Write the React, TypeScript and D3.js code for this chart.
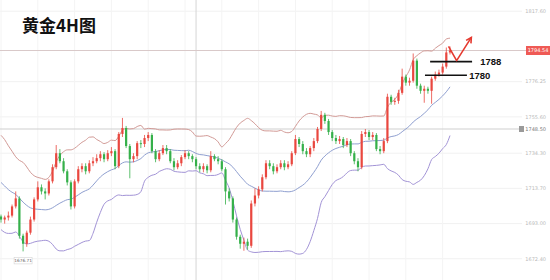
import React from 'react';
import * as d3 from 'd3';

const W = 550;
const H = 280;

const title = '黄金4H图';

// 19 closes before the first visible bar (used only for the Bollinger(20,2) warm-up)
const warmupCloses = [1738.5, 1739.7, 1734.3, 1732.6, 1731.4, 1726.7, 1726.1, 1723.7, 1719.6, 1719.0,
  1714.9, 1714.3, 1711.9, 1707.8, 1706.6, 1703.1, 1701.9, 1698.3, 1697.2];

const closes = [
  1695.4, 1696.6, 1697.7, 1703.1, 1707.8, 1685.9, 1681.2, 1687.7, 1695.4, 1707.2,
  1714.3, 1711.9, 1710.7, 1717.8, 1726.1, 1734.3, 1729.6, 1723.7, 1717.2, 1703.1,
  1717.8, 1724.9, 1726.7, 1723.7, 1728.4, 1729.6, 1731.4, 1733.7, 1730.8, 1734.3,
  1735.5, 1726.7, 1745.6, 1749.1, 1738.5, 1730.8, 1732.6, 1740.2, 1739.7, 1743.2,
  1745.0, 1735.5, 1730.8, 1734.3, 1737.3, 1735.5, 1729.6, 1726.1, 1728.4, 1732.0,
  1734.3, 1732.6, 1730.8, 1726.7, 1724.9, 1726.7, 1724.3, 1732.6, 1730.8, 1729.6,
  1724.9, 1711.9, 1707.8, 1695.4, 1685.3, 1681.2, 1682.4, 1680.0, 1704.8, 1709.5,
  1713.1, 1720.2, 1728.4, 1726.7, 1723.7, 1726.1, 1728.4, 1726.1, 1727.8, 1734.3,
  1742.6, 1739.7, 1735.5, 1733.7, 1737.3, 1741.4, 1748.5, 1756.8, 1753.2, 1746.7,
  1743.2, 1741.4, 1742.6, 1739.1, 1741.4, 1734.3, 1729.6, 1726.1, 1745.6, 1746.7,
  1743.8, 1745.0, 1736.7, 1735.5, 1741.4, 1767.4, 1764.4, 1765.0, 1769.7, 1779.2,
  1775.7, 1776.8, 1788.6, 1773.9, 1770.9, 1772.1, 1770.9, 1778.0, 1780.4, 1781.6,
  1785.1, 1793.4, 1794.54,
];

const highs = [
  1698.3, 1697.7, 1700.1, 1704.2, 1711.9, 1709.0, 1687.1, 1688.9, 1697.1, 1708.4,
  1717.8, 1716.0, 1713.7, 1719.0, 1727.8, 1739.1, 1736.7, 1731.4, 1724.9, 1718.4,
  1719.0, 1726.7, 1728.4, 1728.4, 1730.2, 1732.0, 1733.7, 1735.5, 1734.9, 1736.1,
  1737.9, 1736.7, 1746.7, 1755.0, 1750.3, 1739.7, 1734.3, 1741.4, 1742.0, 1745.0,
  1746.7, 1746.1, 1736.7, 1736.1, 1739.1, 1739.1, 1736.7, 1731.4, 1730.2, 1733.2,
  1736.1, 1735.5, 1733.7, 1732.0, 1728.4, 1728.4, 1727.8, 1735.5, 1733.7, 1732.6,
  1730.8, 1726.1, 1713.7, 1709.0, 1696.6, 1686.5, 1684.8, 1684.2, 1706.6, 1713.7,
  1714.9, 1721.9, 1730.2, 1730.2, 1728.4, 1727.8, 1730.2, 1730.2, 1729.6, 1735.5,
  1745.0, 1743.8, 1741.4, 1737.3, 1738.5, 1743.2, 1749.7, 1759.1, 1758.0, 1754.4,
  1747.9, 1745.0, 1744.4, 1743.8, 1743.2, 1742.6, 1735.5, 1731.4, 1747.3, 1748.5,
  1747.9, 1746.7, 1746.1, 1738.5, 1743.2, 1769.2, 1768.6, 1766.8, 1771.5, 1783.9,
  1780.4, 1778.6, 1792.8, 1789.8, 1775.1, 1773.9, 1773.3, 1779.2, 1782.2, 1783.3,
  1786.9, 1796.3, 1796.9,
];

const lows = [
  1693.6, 1693.0, 1694.8, 1696.6, 1701.9, 1684.2, 1676.71, 1679.4, 1686.5, 1694.2,
  1706.0, 1710.1, 1707.2, 1709.5, 1716.6, 1724.9, 1728.4, 1722.5, 1715.4, 1701.3,
  1701.9, 1716.6, 1723.1, 1721.9, 1722.5, 1726.7, 1728.4, 1729.6, 1729.0, 1729.6,
  1732.6, 1724.9, 1725.5, 1743.8, 1737.3, 1719.6, 1729.0, 1730.8, 1737.3, 1737.9,
  1741.4, 1734.3, 1729.0, 1729.6, 1733.2, 1733.7, 1728.4, 1724.3, 1724.9, 1726.7,
  1730.8, 1730.8, 1729.0, 1724.9, 1723.1, 1723.1, 1722.5, 1723.1, 1729.6, 1727.8,
  1723.7, 1704.2, 1706.0, 1693.6, 1683.6, 1678.3, 1677.1, 1677.7, 1678.8, 1703.1,
  1707.8, 1711.9, 1719.0, 1724.9, 1721.9, 1722.5, 1724.9, 1724.3, 1724.9, 1726.7,
  1733.2, 1737.9, 1733.7, 1732.0, 1732.0, 1735.5, 1740.2, 1747.3, 1751.5, 1745.0,
  1741.4, 1739.7, 1739.7, 1737.3, 1737.9, 1732.6, 1727.8, 1723.7, 1724.9, 1743.8,
  1742.0, 1742.0, 1735.5, 1733.7, 1734.3, 1740.2, 1762.7, 1762.7, 1763.3, 1768.6,
  1773.9, 1773.9, 1775.7, 1772.1, 1769.2, 1763.9, 1769.2, 1763.3, 1776.8, 1779.2,
  1780.4, 1783.9, 1792.2,
];

const axisTicks = [1817.6, 1776.25, 1755.6, 1734.3, 1713.7, 1693.0, 1672.4];
const markerPrice = 1748.5;
const sessionBarIndex = 53;

const supportLevels = [1788, 1780];
const supportFrom = [116.6, 115.2];
const supportTo = [128.0, 126.6];
const supportLabelAt = [130.2, 127.2];

const arrowIdx = [121.6, 123.8, 127.8];
const arrowPrices = [1796.9, 1788.6, 1802.2];

const UP = '#e9473f';
const DOWN = '#35b04a';

function bollinger(all: number[], period: number, k: number) {
  const up: number[] = [];
  const mid: number[] = [];
  const lo: number[] = [];
  for (let i = period - 1; i < all.length; i++) {
    const w = all.slice(i - period + 1, i + 1);
    const m = d3.mean(w) as number;
    const sd = Math.sqrt(d3.mean(w.map((v) => (v - m) * (v - m))) as number);
    mid.push(m);
    up.push(m + k * sd);
    lo.push(m - k * sd);
  }
  return { up, mid, lo };
}

export default function App() {
  const n = closes.length;
  const x = d3.scaleLinear().domain([0, n - 1]).range([1, 450]);
  const y = d3.scaleLinear().domain([1748.5, 1794.54]).range([129, 50.5]);

  const opens = closes.map((c, i) => (i === 0 ? warmupCloses[warmupCloses.length - 1] : closes[i - 1]));
  const bb = bollinger(warmupCloses.concat(closes), 20, 2);

  const line = d3
    .line<number>()
    .x((_, i) => x(i))
    .y((v) => y(v))
    .curve(d3.curveMonotoneX);

  const lastPrice = closes[n - 1];
  const minLow = d3.min(lows) as number;
  const minIdx = lows.indexOf(minLow);

  const arrowPts = arrowIdx.map((a, i) => [x(a), y(arrowPrices[i])] as [number, number]);
  const [ax1, ay1] = arrowPts[arrowPts.length - 2];
  const [ax2, ay2] = arrowPts[arrowPts.length - 1];
  const ang = Math.atan2(ay2 - ay1, ax2 - ax1);
  const head = 6;
  const h1 = [ax2 - head * Math.cos(ang - 0.5), ay2 - head * Math.sin(ang - 0.5)];
  const h2 = [ax2 - head * Math.cos(ang + 0.5), ay2 - head * Math.sin(ang + 0.5)];

  const gridX = d3.range(0, n, 10).map((i) => x(i));

  return (
    <svg
      width={W}
      height={H}
      style={{ position: 'absolute', left: 0, top: 0, background: '#fff' }}
    >
      <rect x={0} y={0} width={W} height={H} fill="#fff" />
      {/* faint grid */}
      {axisTicks.map((t) => (
        <line key={'gh' + t} x1={0} x2={522} y1={y(t)} y2={y(t)} stroke="#f1f1f1" strokeWidth={1} />
      ))}
      {gridX.map((gx, i) => (
        <line key={'gv' + i} x1={gx} x2={gx} y1={0} y2={H} stroke="#f4f4f4" strokeWidth={1} />
      ))}
      {/* session line and marker line */}
      <line x1={x(sessionBarIndex)} x2={x(sessionBarIndex)} y1={0} y2={H} stroke="#d6d6d6" strokeWidth={1} />
      <line x1={0} x2={522} y1={y(markerPrice)} y2={y(markerPrice)} stroke="#cfcfcf" strokeWidth={1} />
      <line x1={0} x2={526} y1={y(lastPrice)} y2={y(lastPrice)} stroke="#d9c9c9" strokeWidth={1} />

      {/* Bollinger bands */}
      <path d={line(bb.up) || ''} fill="none" stroke="#d29a96" strokeWidth={1} />
      <path d={line(bb.mid) || ''} fill="none" stroke="#8f9fd0" strokeWidth={1} />
      <path d={line(bb.lo) || ''} fill="none" stroke="#a293d6" strokeWidth={1} />

      {/* candles */}
      {closes.map((c, i) => {
        const o = opens[i];
        const col = c >= o ? UP : DOWN;
        const yo = y(o);
        const yc = y(c);
        const top = Math.min(yo, yc);
        const h = Math.max(1, Math.abs(yo - yc));
        return (
          <g key={i}>
            <line x1={x(i)} x2={x(i)} y1={y(highs[i])} y2={y(lows[i])} stroke={col} strokeWidth={0.8} />
            <rect x={x(i) - 1.1} y={top} width={2.2} height={h} fill={col} />
          </g>
        );
      })}

      {/* support annotations */}
      {supportLevels.map((lv, i) => (
        <g key={'s' + lv}>
          <line
            x1={x(supportFrom[i])}
            x2={x(supportTo[i])}
            y1={y(lv)}
            y2={y(lv)}
            stroke="#111"
            strokeWidth={1.6}
          />
          <text
            x={x(supportLabelAt[i])}
            y={y(lv) + 3.4}
            fontFamily="Liberation Sans, Arial, sans-serif"
            fontWeight={700}
            fontSize={9.5}
            fill="#111"
          >
            {lv}
          </text>
        </g>
      ))}

      {/* red arrow */}
      <path
        d={d3.line()(arrowPts) || ''}
        fill="none"
        stroke="#e53a30"
        strokeWidth={1.6}
        strokeLinejoin="round"
      />
      <path
        d={`M${h1[0]},${h1[1]}L${ax2},${ay2}L${h2[0]},${h2[1]}`}
        fill="none"
        stroke="#e53a30"
        strokeWidth={1.6}
      />

      {/* right axis labels */}
      {axisTicks.map((t) => (
        <text
          key={'t' + t}
          x={546}
          y={y(t) + 1.8}
          textAnchor="end"
          fontFamily="DejaVu Sans, sans-serif"
          fontSize={5}
          fill="#b9b9b9"
        >
          {t.toFixed(2)}
        </text>
      ))}
      {/* last price box */}
      <rect x={526} y={y(lastPrice) - 4.5} width={24} height={9} fill="#ef5a55" />
      <text
        x={538}
        y={y(lastPrice) + 1.8}
        textAnchor="middle"
        fontFamily="DejaVu Sans, sans-serif"
        fontSize={5}
        fill="#fff"
      >
        {lastPrice.toFixed(2)}
      </text>
      {/* marker label */}
      <rect x={519} y={y(markerPrice) - 3} width={5} height={6} fill="#9a9a9a" />
      <text
        x={546}
        y={y(markerPrice) + 1.8}
        textAnchor="end"
        fontFamily="DejaVu Sans, sans-serif"
        fontSize={5}
        fill="#777"
      >
        {markerPrice.toFixed(2)}
      </text>

      {/* low label */}
      <rect x={x(minIdx) - 9} y={y(minLow) + 6} width={18} height={6.5} fill="#fff" stroke="#d4d4d4" strokeWidth={0.6} />
      <text
        x={x(minIdx)}
        y={y(minLow) + 10.8}
        textAnchor="middle"
        fontFamily="DejaVu Sans, sans-serif"
        fontSize={4.3}
        fill="#666"
      >
        {minLow.toFixed(2)}
      </text>

      {/* title */}
      <text
        x={22}
        y={31.5}
        fontFamily="Noto Sans CJK SC, sans-serif"
        fontWeight={700}
        fontSize={17}
        fill="#111"
      >
        {title}
      </text>
    </svg>
  );
}
